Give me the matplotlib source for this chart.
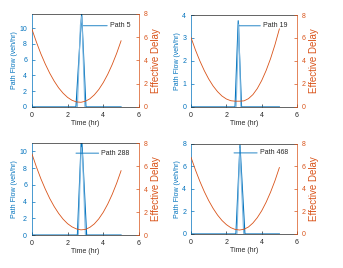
import matplotlib.pyplot as plt
import numpy as np

plt.rcParams['font.family'] = ['Liberation Sans', 'DejaVu Sans']

blue = '#0072BD'
light = '#7FB8E0'
orange = '#D95319'

t_delay = [0, 0.25, 0.5, 0.75, 1.0, 1.25, 1.5, 1.75, 2.0, 2.25, 2.5,
           2.75, 3.0, 3.25, 3.5, 3.75, 4.0, 4.25, 4.5, 4.75, 5.0]

paths = ['Path 5', 'Path 19', 'Path 288', 'Path 468']

delay = [
    [6.70, 5.59, 4.58, 3.69, 2.90, 2.22, 1.64, 1.18, 0.82, 0.57, 0.43,
     0.40, 0.49, 0.70, 1.04, 1.50, 2.09, 2.80, 3.64, 4.60, 5.69],
    [6.03, 4.95, 4.00, 3.16, 2.43, 1.82, 1.33, 0.95, 0.69, 0.54, 0.50,
     0.50, 0.53, 0.72, 1.07, 1.60, 2.30, 3.17, 4.20, 5.41, 6.79],
    [7.07, 5.94, 4.91, 4.00, 3.18, 2.48, 1.88, 1.38, 0.99, 0.71, 0.53,
     0.45, 0.49, 0.67, 0.97, 1.41, 1.98, 2.69, 3.53, 4.50, 5.60],
    [6.80, 5.68, 4.67, 3.76, 2.96, 2.27, 1.68, 1.20, 0.83, 0.56, 0.40,
     0.35, 0.42, 0.62, 0.97, 1.45, 2.06, 2.82, 3.71, 4.73, 5.90],
]

# path flow (dark) and a second lighter trace
flow_t = [
    [0, 2.47, 2.79, 3.03, 5],
    [0, 2.49, 2.67, 2.86, 5],
    [0, 2.55, 2.78, 2.85, 3.07, 5],
    [0, 2.54, 2.77, 3.05, 5],
]
flow = [
    [0, 0, 11.9, 0, 0],
    [0, 0, 3.75, 0, 0],
    [0, 0, 12.0, 9.3, 0, 0],
    [0, 0, 7.9, 0, 0],
]
flow2_t = [
    [2.55, 2.72, 2.8, 2.97],
    [2.55, 2.7, 2.82],
    [2.6, 2.76, 2.84, 3.0],
    [2.6, 2.76, 2.98],
]
flow2 = [
    [0, 10.4, 11.5, 0],
    [0, 3.6, 0],
    [0, 10.5, 9.5, 0],
    [0, 7.6, 0],
]

ymax = [11.8, 4, 11, 8]
yticks = [[0, 2, 4, 6, 8, 10], [0, 1, 2, 3, 4], [0, 2, 4, 6, 8, 10], [0, 2, 4, 6, 8]]
label_xy = [(2.88, 10.3), (2.73, 3.53), (2.47, 9.8), (2.43, 7.2)]
text_x = [4.38, 4.08, 3.9, 3.9]

pos = [
    [0.093, 0.601, 0.312, 0.347],
    [0.557, 0.601, 0.309, 0.343],
    [0.093, 0.123, 0.312, 0.343],
    [0.557, 0.127, 0.309, 0.336],
]

fig = plt.figure(figsize=(3.43, 2.68), dpi=100)

for i in range(4):
    ax = fig.add_axes(pos[i])
    ax.plot(flow_t[i], flow[i], color=blue, lw=0.8)
    ax.plot(flow2_t[i], flow2[i], color=light, lw=0.8)
    ax.set_xlim(0, 6)
    ax.set_ylim(0, ymax[i])
    ax.set_xticks([0, 2, 4, 6])
    ax.set_yticks(yticks[i])
    ax.tick_params(axis='y', colors=blue, labelsize=5, length=2, width=0.5, direction='in')
    ax.tick_params(axis='x', colors='#262626', labelsize=5, length=2, width=0.5, direction='in')
    ax.set_xlabel('Time (hr)', fontsize=5, labelpad=1, color='#262626')
    ax.set_ylabel('Path Flow (veh/hr)', fontsize=5, labelpad=1, color=blue)
    for s in ['top', 'bottom']:
        ax.spines[s].set_color('#262626')
        ax.spines[s].set_linewidth(0.5)
    ax.spines['left'].set_color(blue)
    ax.spines['left'].set_linewidth(0.5)
    ax.spines['right'].set_visible(False)

    ax.annotate(paths[i], xy=label_xy[i], xytext=(text_x[i], label_xy[i][1]),
                fontsize=5, va='center', color='#262626',
                arrowprops=dict(arrowstyle='-', color=blue, lw=0.6,
                                shrinkA=0, shrinkB=0))

    ax2 = ax.twinx()
    ax2.plot(t_delay, delay[i], color=orange, lw=0.6)
    ax2.set_ylim(0, 8)
    ax2.set_yticks([0, 2, 4, 6, 8])
    ax2.tick_params(axis='y', colors=orange, labelsize=5, length=2, width=0.5, direction='in')
    ax2.set_ylabel('Effective Delay', fontsize=7, labelpad=2, color=orange)
    ax2.spines['right'].set_color(orange)
    ax2.spines['right'].set_linewidth(0.5)
    for s in ['top', 'bottom', 'left']:
        ax2.spines[s].set_visible(False)

fig.savefig('out.png', dpi=100)
